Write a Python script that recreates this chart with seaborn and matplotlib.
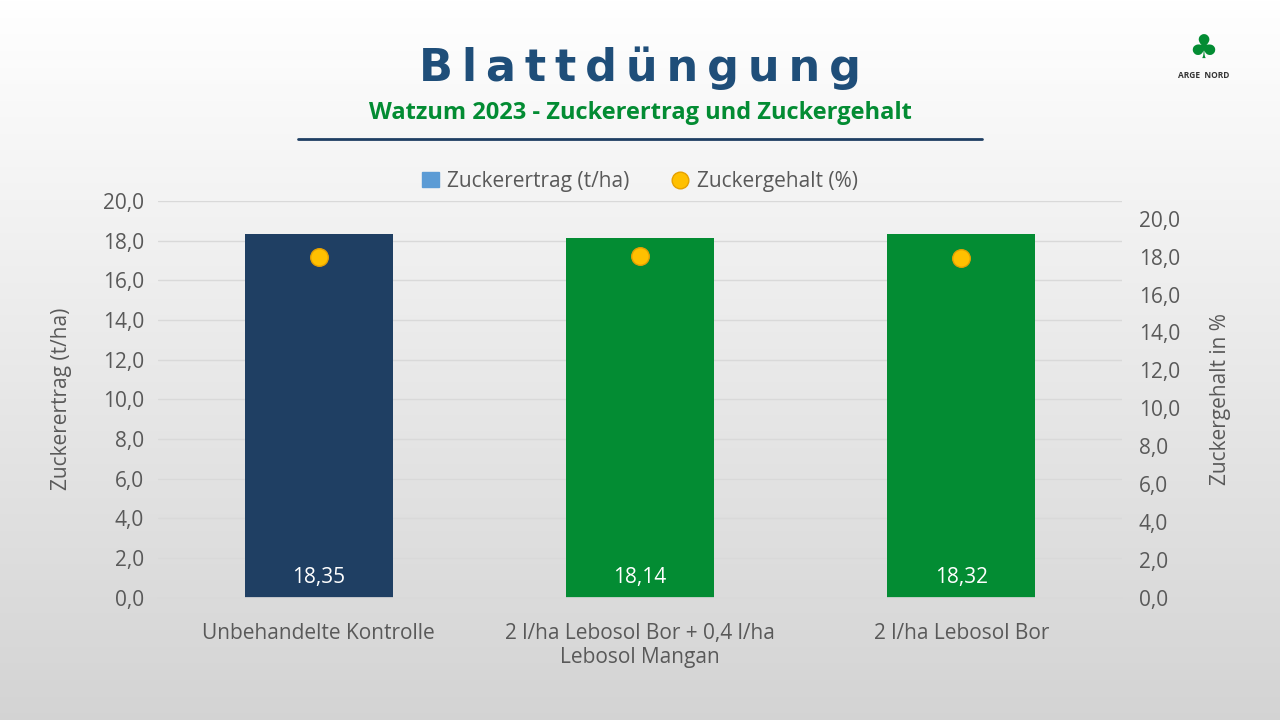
import numpy as np
import pandas as pd
import matplotlib.pyplot as plt
import seaborn as sns

categories = ["Unbehandelte Kontrolle", "2 l/ha Lebosol Bor + 0,4 l/ha\nLebosol Mangan", "2 l/ha Lebosol Bor"]
zuckerertrag = [18.35, 18.14, 18.32]
zuckergehalt = [18.0, 18.05, 17.95]
bar_colors = ["#1f3f63", "#038c33", "#038c33"]

sns.set_theme(style="white")
plt.rcParams["font.family"] = ["Open Sans", "DejaVu Sans"]

fig = plt.figure(figsize=(12.8, 7.2), dpi=100)
bg = fig.add_axes([0, 0, 1, 1], zorder=-10)
grad = np.linspace(1, 0.83, 256).reshape(-1, 1)
bg.imshow(np.dstack([grad] * 3), aspect="auto", extent=[0, 1, 0, 1])
bg.axis("off")

ax = fig.add_axes([0.1235, 0.17, 0.753, 0.551])
ax.set_facecolor("none")
df = pd.DataFrame({"cat": categories, "val": zuckerertrag})
sns.barplot(data=df, x="cat", y="val", hue="cat", palette=bar_colors, width=0.46,
            legend=False, ax=ax, saturation=1, linewidth=0)
ax.set_ylim(0, 20)
ax.set_yticks(np.arange(0, 21, 2))
ax.set_yticklabels([f"{v:.1f}".replace(".", ",") for v in np.arange(0, 21, 2)])
ax.yaxis.grid(True, color="#d9d9d9", lw=1)
ax.set_axisbelow(True)
ax.set_xlabel("")
ax.set_ylabel("Zuckerertrag (t/ha)", fontsize=15, color="#595959", labelpad=22)
ax.tick_params(axis="both", labelsize=15, colors="#595959", length=0)
ax.tick_params(axis="x", pad=18)
ax.tick_params(axis="y", pad=10)
for s in ax.spines.values():
    s.set_visible(False)
ax.spines["bottom"].set_visible(True)
ax.spines["bottom"].set_color("#d9d9d9")
for i, v in enumerate(zuckerertrag):
    ax.text(i, 1.0, f"{v:.2f}".replace(".", ","), ha="center", va="center",
            color="white", fontsize=15)

ax2 = ax.twinx()
ax2.scatter(range(3), zuckergehalt, s=160, color="#ffc000", edgecolor="#e6a000",
            linewidth=1, zorder=5)
ax2.set_ylim(0, 20.95)
ax2.set_yticks(np.arange(0, 21, 2))
ax2.set_yticklabels([f"{v:.1f}".replace(".", ",") for v in np.arange(0, 21, 2)])
ax2.set_ylabel("Zuckergehalt in %", fontsize=15, color="#595959", labelpad=22)
ax2.tick_params(axis="y", labelsize=15, colors="#595959", length=0, pad=12)
for s in ax2.spines.values():
    s.set_visible(False)
ax.set_xlim(-0.5, 2.5)

h1 = plt.Rectangle((0, 0), 1, 1, color="#5b9bd5")
h2 = plt.Line2D([], [], marker="o", ls="", color="#ffc000", markeredgecolor="#e6a000", markersize=12)
fig.legend([h1, h2], ["Zuckerertrag (t/ha)", "Zuckergehalt (%)"], loc="center",
           bbox_to_anchor=(0.5, 0.748), ncol=2, frameon=False, fontsize=15,
           labelcolor="#595959", handlelength=0.8, handletextpad=0.4, columnspacing=2)

fig.text(0.5, 0.905, "\u2009".join("Blattdüngung"), ha="center", va="center", fontsize=32,
         fontweight="bold", color="#1f4e79", family=["DejaVu Sans"])
fig.text(0.5, 0.843, "Watzum 2023 - Zuckerertrag und Zuckergehalt", ha="center",
         va="center", fontsize=17, fontweight="bold", color="#038c33")
fig.add_artist(plt.Line2D([0.233, 0.767], [0.807, 0.807], color="#1f3f63", lw=2))
fig.text(0.94, 0.895, "ARGE  NORD", ha="center", va="center", fontsize=6,
         fontweight="bold", color="#333333")
fig.text(0.94, 0.93, "♣", ha="center", va="center", fontsize=24, color="#038c33")

fig.savefig("out.png", dpi=100)
